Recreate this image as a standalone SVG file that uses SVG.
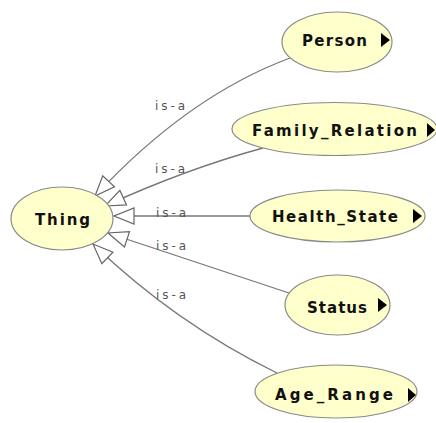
<svg xmlns="http://www.w3.org/2000/svg" width="436" height="423" viewBox="0 0 436 423">
<defs>
<style>
.node ellipse{fill:#ffffcc;stroke:#8a8a8a;stroke-width:1.2}
.node text{font-family:"DejaVu Sans",sans-serif;font-size:15px;font-weight:bold;fill:#111}
.node polygon{fill:#000}
.edge{fill:none;stroke:#777;stroke-width:1.3;marker-end:url(#hollow)}
.lbl{font-family:"DejaVu Sans",sans-serif;font-size:12px;fill:#555}
</style>
<marker id="hollow" markerUnits="userSpaceOnUse" markerWidth="24" markerHeight="20" viewBox="0 0 24 20" refX="22" refY="10" orient="auto">
<path d="M22,10 L2,2 L2,18 Z" fill="#fff" stroke="#666" stroke-width="1.2"/>
</marker>
</defs>
<rect width="436" height="423" fill="#fff"/>
<g id="connectors">
<path class="edge" d="M290,58 Q188,96 95,196"/>
<path class="edge" d="M263,148 Q186,169 105,206"/>
<path class="edge" d="M250,216 L114,216"/>
<path class="edge" d="M289,293 L108,233"/>
<path class="edge" d="M277,373 Q175,323 93,244"/>
<text class="lbl" x="155" y="110" textLength="30" lengthAdjust="spacing">is-a</text>
<text class="lbl" x="155" y="173" textLength="30" lengthAdjust="spacing">is-a</text>
<text class="lbl" x="156" y="217" textLength="30" lengthAdjust="spacing">is-a</text>
<text class="lbl" x="156" y="250" textLength="30" lengthAdjust="spacing">is-a</text>
<text class="lbl" x="156" y="299" textLength="30" lengthAdjust="spacing">is-a</text>
</g>
<g id="thing" class="node">
<ellipse cx="62" cy="218.5" rx="51" ry="31.5"/>
<text x="35" y="225" textLength="55" lengthAdjust="spacing">Thing</text>
</g>
<g id="person" class="node">
<ellipse cx="337" cy="42" rx="55" ry="30"/>
<text x="302" y="46" textLength="65" lengthAdjust="spacing">Person</text>
<polygon points="381,33 390,40 381,47"/>
</g>
<g id="family_relation" class="node">
<ellipse cx="334.5" cy="129" rx="102.5" ry="26.5"/>
<text x="252" y="136" textLength="165" lengthAdjust="spacing">Family_Relation</text>
<polygon points="427,123 435,130 427,137"/>
</g>
<g id="health_state" class="node">
<ellipse cx="337.5" cy="216" rx="87.5" ry="26"/>
<text x="272" y="222" textLength="126" lengthAdjust="spacing">Health_State</text>
<polygon points="413,209 422,216 413,223"/>
</g>
<g id="status" class="node">
<ellipse cx="337.5" cy="305" rx="52.5" ry="30"/>
<text x="307" y="313" textLength="60" lengthAdjust="spacing">Status</text>
<polygon points="378,298 387,305 378,312"/>
</g>
<g id="age_range" class="node">
<ellipse cx="336" cy="391.5" rx="81" ry="26.5"/>
<text x="275" y="400" textLength="118" lengthAdjust="spacing">Age_Range</text>
<polygon points="408,388 416,395 408,402"/>
</g>
</svg>
